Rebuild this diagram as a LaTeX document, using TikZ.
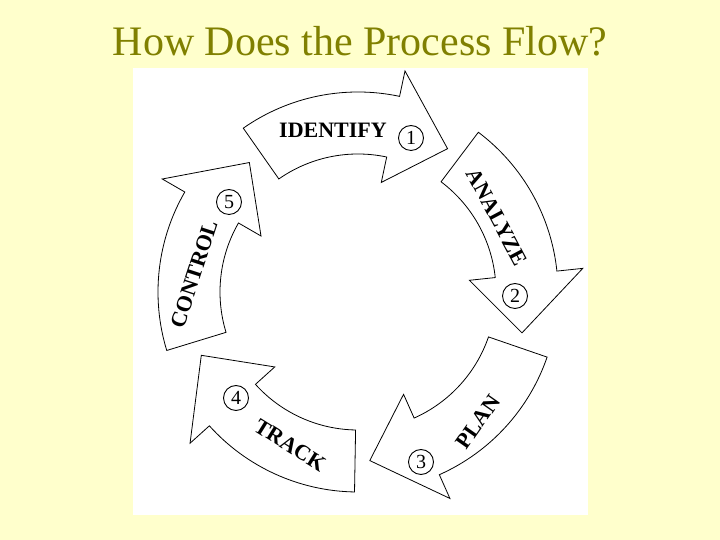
\documentclass[tikz,border=0pt]{standalone}
\usepackage{fontspec}
\setmainfont{Liberation Serif}
\definecolor{bgy}{HTML}{FFFFCC}
\definecolor{olive}{HTML}{808000}
\begin{document}
\begin{tikzpicture}[x=1pt,y=1pt,
  arr/.style={draw=black,fill=white,line width=0.8pt,line join=miter},
  lbl/.style={font=\bfseries\fontsize{22}{22}\selectfont,inner sep=0pt},
  num/.style={circle,draw,line width=0.9pt,inner sep=0pt,minimum size=25pt,font=\fontsize{20}{20}\selectfont}]
\fill[bgy] (0,0) rectangle (720,540);
\useasboundingbox (0,0) rectangle (720,540);
\node[text=olive,font=\fontsize{42}{42}\selectfont] (title) at (360,499) {How Does the Process Flow?};
\fill[white] (133,25) rectangle (588,472);
\begin{scope}[shift={(358,248)}]
\foreach \k in {0,...,4}{
  \pgfmathsetmacro{\aa}{125-72*\k}
  \pgfmathsetmacro{\ab}{78-72*\k}
  \pgfmathsetmacro{\ac}{58-72*\k}
  \draw[arr] (\aa:200) arc[start angle=\aa,end angle=\ab,radius=200]
    -- (\ab:226) -- (\ac:169) -- (\ab:112) -- (\ab:138)
    arc[start angle=\ab,end angle=\aa,radius=138] -- cycle;
}
\end{scope}
\node[lbl] (l1) at (333,410) {IDENTIFY};
\node[lbl,rotate=-62] (l2) at (497,323) {ANALYZE};
\node[lbl,rotate=55] (l3) at (478,118) {PLAN};
\node[lbl,rotate=-32] (l4) at (290,95) {TRACK};
\node[lbl,rotate=72] (l5) at (194,266) {CONTROL};
\node[num] (n1) at (411,402) {1};
\node[num] (n2) at (515,244) {2};
\node[num] (n3) at (421,78) {3};
\node[num] (n4) at (236,142) {4};
\node[num] (n5) at (229,338) {5};
\end{tikzpicture}
\end{document}
